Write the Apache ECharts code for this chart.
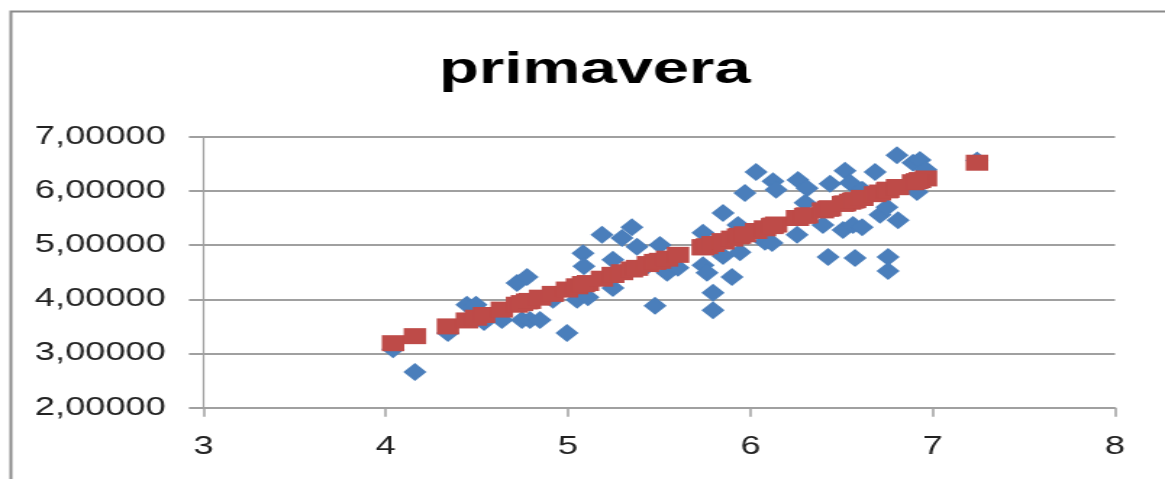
<!DOCTYPE html>
<html><head><meta charset="utf-8">
<script src="https://cdn.jsdelivr.net/npm/echarts@6/dist/echarts.min.js"></script>
<style>
html,body{margin:0;padding:0;background:#fff;overflow:hidden}
#wrap{width:1165px;height:479px;overflow:hidden;position:relative;background:#fff}
#chart{width:804px;height:479px;transform:scaleX(1.449);transform-origin:0 0}
</style></head><body><div id="wrap"><div id="chart"></div></div>
<script>
// Observed values (blue diamonds)
const obsX = [4.040,4.160,4.341,4.445,4.495,4.539,4.637,4.720,4.775,4.747,4.791,4.846,4.917,4.994,5.049,5.109,5.082,5.087,5.186,5.246,5.246,5.296,5.350,5.378,5.438,5.477,5.504,5.543,5.603,
  5.740,5.740,5.762,5.795,5.795,5.850,5.850,5.899,5.932,5.943,5.970,6.031,6.080,6.124,6.141,6.119,
  6.256,6.261,6.311,6.300,6.398,6.426,6.437,6.519,6.547,6.508,6.563,6.574,6.613,6.613,6.684,6.711,6.749,6.755,6.755,6.804,6.810,6.892,6.930,6.963,6.914,7.243];
const obsY = [3.08,2.66,3.38,3.90,3.90,3.58,3.62,4.30,4.41,3.62,3.62,3.62,3.99,3.38,3.99,4.04,4.85,4.61,5.19,4.21,4.73,5.13,5.33,4.97,4.63,3.88,5.00,4.49,4.58,
  5.23,4.63,4.49,4.12,3.80,5.59,4.80,4.41,5.37,4.87,5.96,6.35,5.06,6.18,6.02,5.04,
  5.19,6.20,6.05,5.78,5.37,4.78,6.13,6.37,6.15,5.28,5.37,4.76,6.02,5.33,6.35,5.56,5.70,4.78,4.52,6.66,5.46,6.52,6.57,6.39,5.98,6.56];
// Predicted values (red squares), same x positions
const fitY = [3.19,3.32,3.50,3.61,3.66,3.71,3.81,3.90,3.96,3.93,3.97,4.03,4.10,4.18,4.24,4.30,4.28,4.28,4.38,4.45,4.45,4.50,4.55,4.58,4.65,4.69,4.71,4.75,4.82,
  4.96,4.96,4.98,5.02,5.02,5.07,5.07,5.12,5.16,5.17,5.20,5.26,5.31,5.36,5.38,5.35,
  5.50,5.50,5.55,5.54,5.64,5.67,5.68,5.77,5.80,5.76,5.82,5.83,5.87,5.87,5.94,5.97,6.01,6.02,6.02,6.07,6.07,6.16,6.20,6.23,6.18,6.52];
const xTickLabels = ['3','4','5','6','7','8'];
const yTickLabels = ['2,00000','3,00000','4,00000','5,00000','6,00000','7,00000'];
const titleText = 'primavera';

const chart = echarts.init(document.getElementById('chart'), null, {renderer:'canvas'});
const gray = '#a0a0a0';
const font = 'Liberation Sans';
chart.setOption({
  animation:false,
  backgroundColor:'#fff',
  title:{text:titleText,left:298,top:43,textStyle:{fontFamily:font,fontWeight:'bold',fontSize:45,color:'#000'}},
  graphic:[{type:'rect',left:5,top:9,shape:{width:900,height:600},style:{fill:'none',stroke:'#8a8a8a',lineWidth:2},silent:true}],
  grid:{left:140.4,right:34.5,top:136.7,bottom:71.3,containLabel:false},
  xAxis:{type:'value',min:3,max:8,interval:1,
    axisLine:{show:true,onZero:false,lineStyle:{color:gray,width:1.5}},
    axisTick:{show:true,length:9,lineStyle:{color:gray,width:1.5}},
    splitLine:{show:false},
    axisLabel:{margin:27,fontFamily:font,fontSize:25,color:'#222',
      formatter:v=>xTickLabels[Math.round(v-3)]}},
  yAxis:{type:'value',min:2,max:7,interval:1,
    axisLine:{show:true,onZero:false,lineStyle:{color:gray,width:1.2}},
    axisTick:{show:true,length:10,lineStyle:{color:gray,width:2}},
    splitLine:{show:true,lineStyle:{color:gray,width:2}},
    axisLabel:{margin:26,fontFamily:font,fontSize:25,color:'#222',
      formatter:v=>yTickLabels[Math.round(v-2)]}},
  series:[
    {type:'scatter',symbol:'diamond',symbolSize:[16,18],itemStyle:{color:'#4A7EBB',opacity:1},
      data:obsX.map((x,i)=>[x,obsY[i]])},
    {type:'scatter',symbol:'rect',symbolSize:[15.5,16],itemStyle:{color:'#BE4B48',opacity:1},
      data:obsX.map((x,i)=>[x,fitY[i]])}
  ]
});
</script></body></html>
